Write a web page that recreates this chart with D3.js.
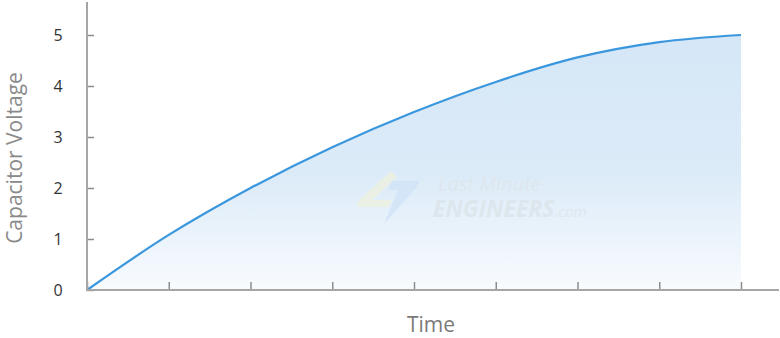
<!DOCTYPE html>
<html><head><meta charset="utf-8">
<script src="https://cdn.jsdelivr.net/npm/d3@7"></script>
<style>
html,body{margin:0;padding:0;background:#fff;}
svg{display:block;font-family:"Open Sans",sans-serif;}
</style></head>
<body>
<svg id="chart" width="780" height="338"></svg>
<script>
const timeSteps = [0, 1, 2, 3, 4, 5, 6, 7, 8];
const voltage = [0, 1.08, 2.0, 2.8, 3.49, 4.08, 4.56, 4.86, 5.0];
const yTicks = [0, 1, 2, 3, 4, 5];
const xLabel = "Time";
const yLabel = "Capacitor Voltage";

const svg = d3.select("#chart");
const x = d3.scaleLinear().domain([0, 8]).range([87, 741]);
const y = d3.scaleLinear().domain([0, 5]).range([290, 35]);
const data = timeSteps.map((t, i) => ({t, v: voltage[i]}));

const defs = svg.append("defs");
const grad = defs.append("linearGradient").attr("id", "fillGrad")
  .attr("gradientUnits", "userSpaceOnUse").attr("x1", 0).attr("x2", 0)
  .attr("y1", y(5)).attr("y2", y(0));
grad.append("stop").attr("offset", "0").attr("stop-color", "#d5e7f7");
grad.append("stop").attr("offset", "0.55").attr("stop-color", "#dcebf8");
grad.append("stop").attr("offset", "1").attr("stop-color", "#f8fbfe");

const curve = d3.curveCatmullRom.alpha(0.5);
const area = d3.area().x(d => x(d.t)).y0(y(0)).y1(d => y(d.v)).curve(curve);
svg.append("path").datum(data).attr("d", area).attr("fill", "url(#fillGrad)");

// watermark
const wm = svg.append("g");
wm.append("polygon").attr("points", "391,171 358,201 357,207 388,207 392,200 372,200 397,177")
  .attr("fill", "#eef0dc").attr("opacity", 0.75);
wm.append("polygon").attr("points", "392,181 420,181 416,188 384,224 398,190 388,190")
  .attr("fill", "#cde1f6").attr("opacity", 0.7);
const wt = wm.append("text").attr("font-style", "italic").attr("fill", "#dee6ed");
wt.append("tspan").attr("x", 438).attr("y", 191).attr("font-size", 20).text("Last Minute");
wt.append("tspan").attr("x", 433).attr("y", 217).attr("font-size", 23).attr("font-weight", "bold").text("ENGINEERS");
wt.append("tspan").attr("font-size", 15).text(".com");

const line = d3.line().x(d => x(d.t)).y(d => y(d.v)).curve(curve);
svg.append("path").datum(data).attr("d", line).attr("fill", "none")
  .attr("stroke", "#3b97dd").attr("stroke-width", 2.2);

// axes
const yAxis = svg.append("g").attr("transform", `translate(${x(0)},0)`)
  .call(d3.axisLeft(y).tickValues(yTicks).tickSize(-7).tickPadding(0).tickFormat(d3.format("d")));
yAxis.select(".domain").remove();
yAxis.selectAll(".tick line").attr("stroke", "#8c8c8c").attr("stroke-width", 1.5);
yAxis.selectAll(".tick text").attr("x", -29).attr("text-anchor", "middle")
  .attr("font-size", 16).attr("fill", "#333").attr("font-family", "Open Sans");

const xAxis = svg.append("g").attr("transform", `translate(0,${y(0)})`)
  .call(d3.axisBottom(x).tickValues(timeSteps).tickSize(-8).tickFormat(""));
xAxis.select(".domain").remove();
xAxis.selectAll(".tick line").attr("stroke", "#8c8c8c").attr("stroke-width", 1.5);

svg.append("line").attr("x1", x(0)).attr("x2", x(0)).attr("y1", 2).attr("y2", y(0) + 1)
  .attr("stroke", "#a6a6a6").attr("stroke-width", 2);
svg.append("line").attr("x1", x(0) - 1).attr("x2", 779).attr("y1", y(0)).attr("y2", y(0))
  .attr("stroke", "#a6a6a6").attr("stroke-width", 2);

svg.append("text").attr("x", 431).attr("y", 332).attr("text-anchor", "middle")
  .attr("font-size", 21).attr("fill", "#7a7a7a").text(xLabel);
svg.append("text").attr("transform", "translate(22,158) rotate(-90)").attr("text-anchor", "middle")
  .attr("font-size", 21).attr("fill", "#8a8a8a").text(yLabel);
</script>
</body></html>
